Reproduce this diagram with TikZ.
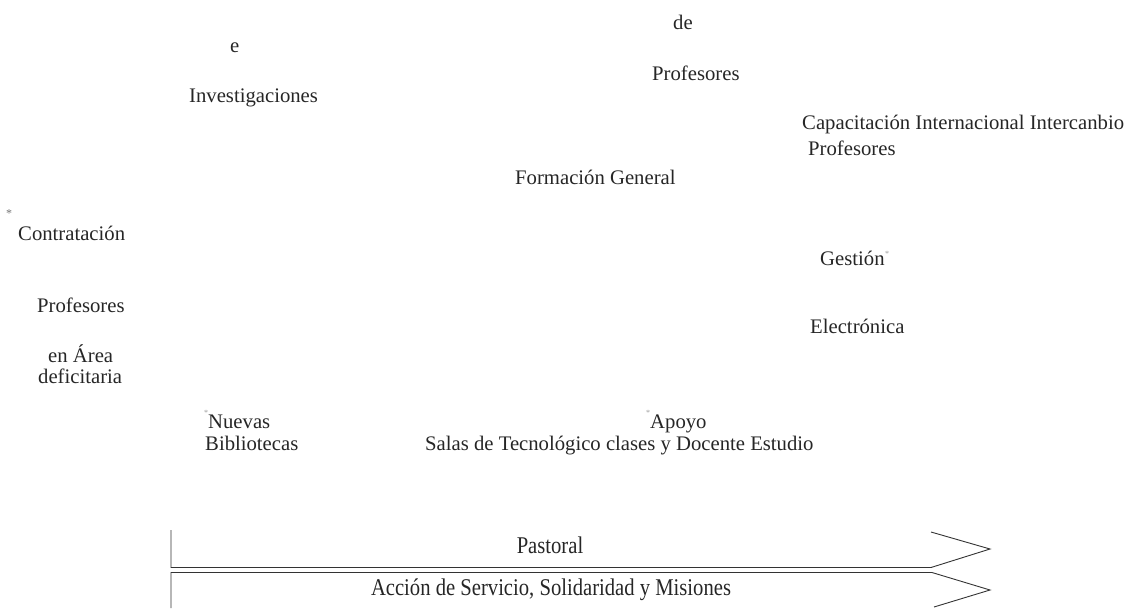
\documentclass[tikz,border=0pt]{standalone}
\usepackage{fontspec}
\setmainfont{Liberation Serif}
\begin{document}
\begin{tikzpicture}[x=1pt,y=-1pt,
  lbl/.style={anchor=base west,inner sep=0pt,font=\fontsize{20.7}{24}\selectfont,text=black!85},
  lblc/.style={anchor=base,inner sep=0pt,font=\fontsize{24}{28}\selectfont,text=black!85},
  star/.style={inner sep=0pt,font=\fontsize{12}{14}\selectfont,text=black!55},
  tinystar/.style={inner sep=0pt,font=\fontsize{8}{9}\selectfont,text=black!40},
  band/.style={draw=black!80,line width=0.9pt,line join=miter}]
\useasboundingbox (0,0) rectangle (1131,608);
\node[lbl] (de) at (673,29) {de};
\node[lbl] (e) at (230,52) {e};
\node[lbl] (prof1) at (652,80) {Profesores};
\node[lbl] (inv) at (189,102) {Investigaciones};
\node[lbl] (cap) at (802,129) {Capacitación Internacional Intercanbio};
\node[lbl] (prof2) at (808,155) {Profesores};
\node[lbl] (form) at (515,184) {Formación General};
\node[star] (s1) at (9,214) {*};
\node[lbl] (contr) at (18,240) {Contratación};
\node[lbl] (gest) at (820,265) {Gestión};
\node[tinystar] (s2) at (887,254) {*};
\node[lbl] (prof3) at (37,312) {Profesores};
\node[lbl] (elec) at (810,333) {Electrónica};
\node[lbl] (area) at (48,362) {en Área};
\node[lbl] (defi) at (38,383) {deficitaria};
\node[tinystar] (s3) at (206,413) {*};
\node[lbl] (nuev) at (208,428) {Nuevas};
\node[lbl] (bibl) at (205,450) {Bibliotecas};
\node[tinystar] (s4) at (648,413) {*};
\node[lbl] (apoy) at (650,428) {Apoyo};
\node[lbl] (salas) at (425,450) {Salas de Tecnológico clases y Docente Estudio};
% bands
\draw[band] (171,530) -- (171,567.5) -- (931,567.5) -- (990,549) -- (931,532);
\draw[band] (171,608) -- (171,572.5) -- (932,572.5) -- (990,590) -- (934,607);
\node[lblc] (past) at (550,553) {\scalebox{0.86}[1]{Pastoral}};
\node[lblc] (acc) at (551,595) {\scalebox{0.86}[1]{Acción de Servicio, Solidaridad y Misiones}};
\end{tikzpicture}
\end{document}
